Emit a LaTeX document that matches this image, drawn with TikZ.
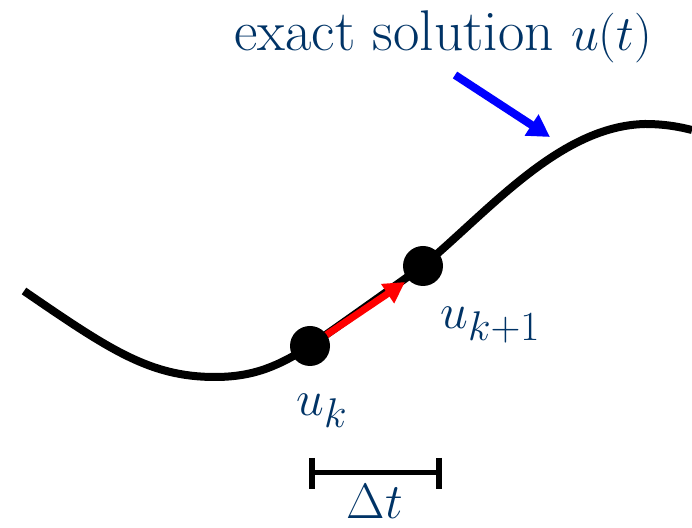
\documentclass[tikz,border=0pt]{standalone}
\usetikzlibrary{arrows.meta}
\definecolor{labelblue}{RGB}{0,51,102}
\begin{document}
\begin{tikzpicture}[x=0.5pt,y=-0.5pt,
  dot/.style={circle,fill=black,inner sep=0pt,minimum size=20pt},
  lbl/.style={text=labelblue,font=\fontsize{28.7}{34}\selectfont,inner sep=0pt},
  curve/.style={line width=4pt},
]
\useasboundingbox (0,0) rectangle (692,528);
\coordinate (pk) at (310,346);
\coordinate (pk1) at (423,266);
\coordinate (redtip) at (405,282);
\coordinate (bs) at (455,75);
\coordinate (bt) at (550,137);
\coordinate (dl) at (312,473);
\coordinate (dr) at (439,473);
% exact solution curve
\draw[curve] (24,291) .. controls (110,350) and (150,377) .. (215,377)
  .. controls (255,377) and (280,365) .. (pk)
  .. controls (350,318) and (385,293) .. (pk1)
  .. controls (490,210) and (560,126) .. (645,124)
  .. controls (665,124) and (680,127) .. (692,130);
% red step
\draw[red, line width=3.5pt, -{Triangle[length=10.5pt,width=11pt]}] (pk) -- (redtip);
\node[dot] (uk) at (pk) {};
\node[dot] (uk1) at (pk1) {};
% labels
\node[lbl,anchor=base] (title) at (443,51) {exact solution $u(t)$};
\draw[blue, line width=4pt, -{Triangle[length=11pt,width=12pt]}] (bs) -- (bt);
\node[lbl,anchor=base west] (lk) at (296,416) {$u_k$};
\node[lbl,anchor=base west] (lk1) at (440,329) {$u_{k+1}$};
% delta t bar
\draw[line width=2.5pt] (dl) -- (dr);
\draw[line width=3pt] (dl) ++(0,-15) -- ++(0,31);
\draw[line width=3pt] (dr) ++(0,-15) -- ++(0,31);
\node[lbl,anchor=base] (dt) at (375,519) {$\Delta t$};
\end{tikzpicture}
\end{document}
